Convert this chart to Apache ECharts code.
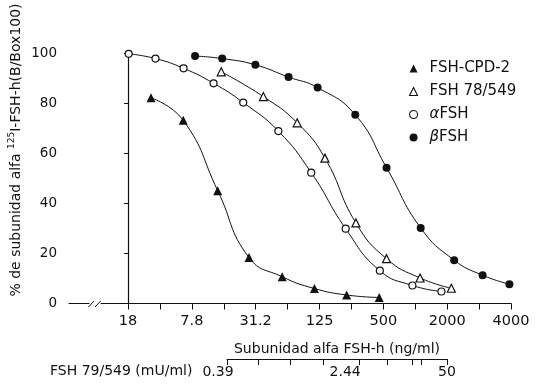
<!DOCTYPE html>
<html>
<head>
<meta charset="utf-8">
<script src="https://cdn.jsdelivr.net/npm/echarts@6/dist/echarts.min.js"></script>
<style>
  html, body { margin: 0; padding: 0; background: #fff; }
  #c { width: 540px; height: 385px; }
</style>
</head>
<body>
<div id="c"></div>
<script>
// Position along the dilution scale (one step per doubling tick) and % bound.
const cpdX   = [0.72, 1.73, 2.81, 3.79, 4.83, 5.84, 6.85, 7.87];
const cpdY   = [82.2, 73.2, 45.1, 18.4, 10.7, 6.0, 3.4, 2.4];
const std78X = [2.92, 4.24, 5.30, 6.17, 7.14, 8.10, 9.15, 10.13];
const std78Y = [92.6, 82.7, 72.2, 58.1, 32.2, 17.9, 10.2, 6.1];
const alphaX = [0.02, 0.86, 1.74, 2.68, 3.61, 4.71, 5.74, 6.82, 7.89, 8.91, 9.82];
const alphaY = [99.8, 97.9, 94.0, 88.0, 80.3, 68.9, 52.3, 29.9, 13.1, 7.2, 4.8];
const betaX  = [2.10, 2.95, 3.99, 5.03, 5.94, 7.12, 8.10, 9.17, 10.22, 11.11, 11.95];
const betaY  = [98.9, 97.9, 95.4, 90.5, 86.3, 75.4, 54.3, 30.2, 17.3, 11.3, 7.7];

// Main dose axis: a tick at every step, labels on every other one.
const doseTicks    = [0, 1, 2, 3, 4, 5, 6, 7, 8, 9, 10, 11, 12];
const doseLabelPos = [0, 2, 4, 6, 8, 10, 12];
const doseLabels   = ['18', '7.8', '31.2', '125', '500', '2000', '4000'];

// Secondary reference scale (FSH 79/549 standard), same step units.
const subTicks     = [3, 4, 5, 6.05, 7.2, 8.1, 8.88, 9.17, 10];
const subLabelPos  = [3, 6.76, 10];
const subLabels    = ['0.39', '2.44', '50'];

const yTicks = [0, 20, 40, 60, 80, 100];

const FONT = 'DejaVu Sans';
const BLACK = '#111';

function pairs(xs, ys) { return xs.map((x, i) => [x, ys[i]]); }

function lineSeries(name, xs, ys, symbol, size, hollow) {
  return {
    name, type: 'line', xAxisIndex: 0, yAxisIndex: 0,
    data: pairs(xs, ys),
    smooth: 0.5,
    symbol, symbolSize: size, showSymbol: true,
    lineStyle: { color: BLACK, width: 1 },
    itemStyle: hollow
      ? { color: '#fff', borderColor: BLACK, borderWidth: 1.2 }
      : { color: BLACK, borderColor: BLACK, borderWidth: 0 },
    emphasis: { disabled: true },
    z: hollow ? 3 : 4
  };
}

const chart = echarts.init(document.getElementById('c'), null, { renderer: 'canvas' });

chart.setOption({
  animation: false,
  backgroundColor: '#fff',
  textStyle: { fontFamily: FONT, color: BLACK },
  grid: [
    { left: 69, right: 29, top: 53.3, bottom: 81.5, containLabel: false },
    { left: 227, right: 93, top: 300, bottom: 26, containLabel: false }
  ],
  legend: {
    orient: 'vertical',
    left: 404, top: 56,
    itemWidth: 8, itemHeight: 8, itemGap: 8,
    selectedMode: false,
    textStyle: {
      fontFamily: FONT, fontSize: 15, color: BLACK, lineHeight: 15, padding: [0, 0, 0, 7],
      rich: { g: { fontFamily: FONT, fontSize: 15, fontStyle: 'italic', color: BLACK } }
    },
    formatter: name => name.replace(/^([αβ])(.*)$/, '{g|$1}$2'),
    data: [
      { name: 'FSH-CPD-2', icon: 'triangle' },
      { name: 'FSH 78/549', icon: 'triangle', itemStyle: { color: '#fff', borderColor: BLACK, borderWidth: 1.1 } },
      { name: 'αFSH', icon: 'circle', itemStyle: { color: '#fff', borderColor: BLACK, borderWidth: 1.1 } },
      { name: 'βFSH', icon: 'circle' }
    ]
  },
  xAxis: [
    {
      type: 'value', gridIndex: 0, min: -1.85, max: 12,
      axisLine: { show: true, lineStyle: { color: BLACK, width: 1 } },
      axisTick: { show: true, inside: false, length: 6, lineStyle: { color: BLACK }, customValues: doseTicks },
      axisLabel: {
        show: true, margin: 10, fontFamily: FONT, fontSize: 14.5, color: BLACK,
        customValues: doseLabelPos,
        formatter: v => doseLabels[doseLabelPos.indexOf(v)] ?? ''
      },
      splitLine: { show: false }
    },
    {
      type: 'value', gridIndex: 1, min: 3, max: 10, position: 'bottom',
      axisLine: { show: true, lineStyle: { color: BLACK, width: 1 } },
      axisTick: { show: true, inside: false, length: 6, lineStyle: { color: BLACK }, customValues: subTicks },
      axisLabel: {
        show: true, margin: 6, fontFamily: FONT, fontSize: 14, color: BLACK,
        customValues: subLabelPos,
        formatter: v => {
          const i = subLabelPos.indexOf(v);
          if (i < 0) return '';
          return i === 0 ? '{l|' + subLabels[i] + '}' : subLabels[i];
        },
        rich: { l: { fontFamily: FONT, fontSize: 14, color: BLACK, padding: [0, 18, 0, 0] } }
      },
      splitLine: { show: false },
      name: 'Subunidad alfa FSH-h (ng/ml)',
      nameLocation: 'middle', nameGap: -17,
      nameTextStyle: { fontFamily: FONT, fontSize: 14, color: BLACK }
    }
  ],
  yAxis: [
    {
      type: 'value', gridIndex: 0, min: 0, max: 100, interval: 20,
      axisLine: { show: true, lineStyle: { color: BLACK, width: 1.2 } },
      axisTick: { show: true, inside: false, length: 4, lineStyle: { color: BLACK } },
      axisLabel: { margin: 12, fontFamily: FONT, fontSize: 13.5, color: BLACK,
                   formatter: v => (yTicks.includes(v) ? String(v) : '') },
      splitLine: { show: false }
    },
    { type: 'value', gridIndex: 1, show: false, min: 0, max: 1 }
  ],
  series: [
    lineSeries('FSH-CPD-2', cpdX, cpdY, 'triangle', 9, false),
    lineSeries('FSH 78/549', std78X, std78Y, 'triangle', 8, true),
    lineSeries('αFSH', alphaX, alphaY, 'circle', 7, true),
    lineSeries('βFSH', betaX, betaY, 'circle', 8, false)
  ]
});

// Axis break mark ("//") on the dose axis, the y-axis title and the
// caption of the secondary scale.
const p0 = chart.convertToPixel({ gridIndex: 0 }, [-1.24, 0]);
const p1 = chart.convertToPixel({ gridIndex: 0 }, [-0.86, 0]);
const ay = p0[1];
const bx0 = p0[0], bx1 = p1[0];
const mid = (bx0 + bx1) / 2;

chart.setOption({
  graphic: [
    { type: 'rect', id: 'gap', shape: { x: bx0 + 1, y: ay - 3, width: bx1 - bx0 - 1, height: 6 },
      style: { fill: '#fff' }, z: 100 },
    { type: 'line', id: 's1', shape: { x1: bx0, y1: ay + 3.5, x2: mid - 0.5, y2: ay - 2.5 },
      style: { stroke: BLACK, lineWidth: 1 }, z: 101 },
    { type: 'line', id: 's2', shape: { x1: mid + 0.5, y1: ay + 3.5, x2: bx1, y2: ay - 2.5 },
      style: { stroke: BLACK, lineWidth: 1 }, z: 101 },
    { type: 'text', id: 'ytitle', x: 16, y: 150, rotation: Math.PI / 2, z: 100,
      style: {
        text: '{a|% de subunidad alfa }{s|125}{a|I-FSH-h(B/Box100)}',
        align: 'center', verticalAlign: 'middle',
        rich: {
          a: { fontFamily: FONT, fontSize: 14, fill: BLACK },
          s: { fontFamily: FONT, fontSize: 9, fill: BLACK, padding: [0, 0, 8, 0] }
        }
      }
    },
    { type: 'text', id: 'stdcap', x: 50, y: 371, z: 100,
      style: { text: 'FSH 79/549 (mU/ml)', fontFamily: FONT, fontSize: 14, fill: BLACK,
               align: 'left', verticalAlign: 'middle' } }
  ]
});
</script>
</body>
</html>
